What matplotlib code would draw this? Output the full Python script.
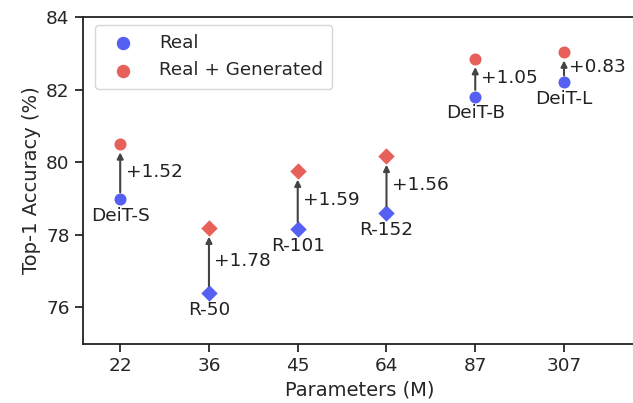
import numpy as np
import matplotlib.pyplot as plt
import seaborn as sns

# Données
params = ['22', '36', '45', '64', '87', '307']
noms = ['DeiT-S', 'R-50', 'R-101', 'R-152', 'DeiT-B', 'DeiT-L']
reel = [78.98, 76.40, 78.16, 78.60, 81.80, 82.20]
reel_gen = [80.50, 78.18, 79.75, 80.16, 82.85, 83.03]
gains = ['+1.52', '+1.78', '+1.59', '+1.56', '+1.05', '+0.83']
formes = ['o', 'D', 'D', 'D', 'o', 'o']

bleu = '#5560f2'
rouge = '#e8605a'

sns.set_style('ticks')
plt.rcParams['font.family'] = ['DejaVu Sans']

fig = plt.figure(figsize=(6.33, 4.03), dpi=100)
ax = fig.add_axes([0.131, 0.147, 0.875, 0.811])

x = np.arange(len(params))
for i in x:
    taille = 70 if formes[i] == 'D' else 75
    ax.scatter(i, reel[i], marker=formes[i], color=bleu, s=taille, zorder=3, linewidths=0)
    ax.scatter(i, reel_gen[i], marker=formes[i], color=rouge, s=taille, zorder=3, linewidths=0)
    ax.annotate('', xy=(i, reel_gen[i]), xytext=(i, reel[i]),
                arrowprops=dict(arrowstyle='-|>', color='#444444', lw=1.5,
                                shrinkA=5, shrinkB=6, mutation_scale=9))
    milieu = (reel[i] + reel_gen[i]) / 2
    ax.text(i + 0.06, milieu, gains[i], fontsize=13.3, va='center', ha='left', color='#222222')
    ax.annotate(noms[i], xy=(i, reel[i]), xytext=(0, -5.5), textcoords='offset points',
                ha='center', va='top', fontsize=13.3, color='#222222')

# légende
ax.scatter([], [], marker='o', color=bleu, s=75, label='Real')
ax.scatter([], [], marker='o', color=rouge, s=75, label='Real + Generated')
ax.legend(loc='upper left', fontsize=13.2, frameon=True, borderpad=0.5,
          handletextpad=1.0, borderaxespad=0.0, bbox_to_anchor=(0.022, 0.975))

ax.set_xticks(x)
ax.set_xticklabels(params)
ax.set_xlim(-0.42, 5.82)
ax.set_ylim(75, 84)
ax.set_yticks([76, 78, 80, 82, 84])
ax.tick_params(labelsize=13.3, length=6, width=1.3)
ax.set_xlabel('Parameters (M)', fontsize=14)
ax.set_ylabel('Top-1 Accuracy (%)', fontsize=14)
for s in ['left', 'bottom', 'top']:
    ax.spines[s].set_linewidth(1.3)
    ax.spines[s].set_color('#222222')
ax.spines['right'].set_visible(False)

plt.savefig('out.png', dpi=100)
